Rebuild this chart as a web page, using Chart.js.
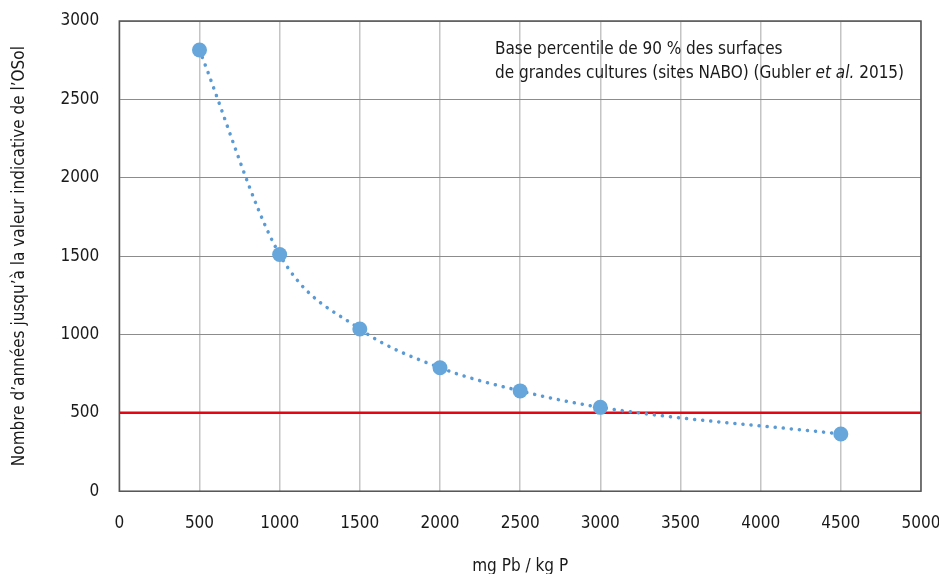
<!DOCTYPE html>
<html>
<head>
<meta charset="utf-8">
<script src="https://cdn.jsdelivr.net/npm/chart.js@4.4.1/dist/chart.umd.min.js"></script>
<style>
  html, body { margin: 0; padding: 0; background: #fff; }
  #wrap { width: 939px; height: 574px; }
</style>
</head>
<body>
<div id="wrap"><canvas id="myChart"></canvas></div>
<script>
// mg Pb / kg P
const xValues = [500, 1000, 1500, 2000, 2500, 3000, 4500];
// years until OSol guide value
const yValues = [2815, 1510, 1035, 788, 640, 535, 365];
// guide line (500 years)
const limitX = [0, 5000];
const limitY = [500, 500];

const noteLines = ['Base percentile de 90 % des surfaces', 'de grandes cultures (sites NABO) (Gubler '];
const fontFam = '"Liberation Sans Narrow", "DejaVu Sans Condensed", "Open Sans", sans-serif';

// frame round the plot + the note text
const framePlugin = {
    id: 'frame',
    afterDraw(chart) {
        const { ctx, chartArea: a } = chart;
        ctx.save();
        ctx.strokeStyle = '#555';
        ctx.lineWidth = 1.5;
        ctx.strokeRect(a.left, a.top, a.right - a.left, a.bottom - a.top);

        ctx.fillStyle = '#1a1a1a';
        ctx.textBaseline = 'middle';
        ctx.font = '17px ' + fontFam;
        const x0 = 495;
        ctx.fillText(noteLines[0], x0, 50);
        ctx.fillText(noteLines[1], x0, 74);
        let w = ctx.measureText(noteLines[1]).width;
        ctx.font = 'italic 17px ' + fontFam;
        ctx.fillText('et al.', x0 + w, 74);
        w += ctx.measureText('et al. ').width;
        ctx.font = '17px ' + fontFam;
        ctx.fillText('2015)', x0 + w, 74);
        ctx.restore();
    }
};

new Chart('myChart', {
    type: 'scatter',
    data: {
        datasets: [
            {
                label: 'valeur indicative',
                data: limitX.map((x, i) => ({ x: x, y: limitY[i] })),
                showLine: true,
                borderColor: '#e30613',
                borderWidth: 2.5,
                pointRadius: 0,
                order: 2
            },
            {
                label: 'années',
                data: xValues.map((x, i) => ({ x: x, y: yValues[i] })),
                showLine: true,
                cubicInterpolationMode: 'monotone',
                borderColor: '#5b9bd5',
                borderWidth: 3.5,
                borderDash: [0.1, 8],
                borderCapStyle: 'round',
                backgroundColor: '#66a6da',
                pointBackgroundColor: '#66a6da',
                pointBorderWidth: 0,
                pointRadius: 7.5,
                order: 1
            }
        ]
    },
    options: {
        responsive: true,
        maintainAspectRatio: false,
        animation: false,
        layout: { padding: { top: 0, right: 0, left: 9, bottom: -3 } },
        plugins: {
            legend: { display: false },
            tooltip: { enabled: false }
        },
        scales: {
            x: {
                type: 'linear',
                min: 0,
                max: 5000,
                afterFit: s => { s.paddingRight = 18; },
                ticks: {
                    stepSize: 500,
                    color: '#1a1a1a',
                    padding: 22,
                    maxRotation: 0,
                    callback: v => String(v),
                    font: { family: fontFam, size: 17 }
                },
                grid: { color: '#c4c4c4', lineWidth: 1.5, drawTicks: false },
                border: { display: false },
                title: {
                    display: true,
                    text: 'mg Pb / kg P',
                    color: '#1a1a1a',
                    padding: { top: 1, bottom: 0 },
                    font: { family: fontFam, size: 17 }
                }
            },
            y: {
                min: 0,
                max: 3000,
                afterFit: s => { s.paddingTop = 21; },
                ticks: {
                    stepSize: 500,
                    color: '#1a1a1a',
                    padding: 20,
                    callback: v => String(v),
                    font: { family: fontFam, size: 17 }
                },
                grid: { color: '#8c8c8c', lineWidth: 1, drawTicks: false },
                border: { display: false },
                title: {
                    display: true,
                    text: 'Nombre d’années jusqu’à la valeur indicative de l’OSol',
                    color: '#1a1a1a',
                    padding: { top: 0, bottom: 11 },
                    font: { family: fontFam, size: 17 }
                }
            }
        }
    },
    plugins: [framePlugin]
});
</script>
</body>
</html>
